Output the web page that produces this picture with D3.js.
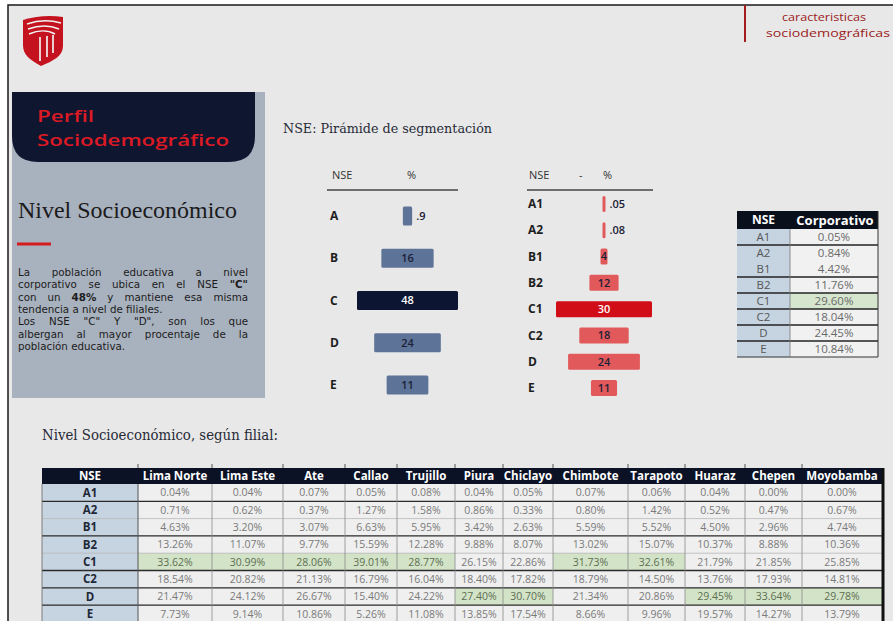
<!DOCTYPE html>
<html>
<head>
<meta charset="utf-8">
<title>nse-perfil</title>
<style>
  body { margin: 0; background: #fff; }
  svg { display: block; }
</style>
</head>
<body>
<script src="https://cdn.jsdelivr.net/npm/d3@7"></script>
<script>
// ---- data ----
var nsePiramide = ["A", "B", "C", "D", "E"];
var pctPiramide = [0.9, 16, 48, 24, 11];

var nseDetalle = ["A1", "A2", "B1", "B2", "C1", "C2", "D", "E"];
var pctDetalle = [0.05, 0.08, 4, 12, 30, 18, 24, 11];

var pctCorporativo = [0.05, 0.84, 4.42, 11.76, 29.60, 18.04, 24.45, 10.84];

var filiales = ["Lima Norte", "Lima Este", "Ate", "Callao", "Trujillo", "Piura",
  "Chiclayo", "Chimbote", "Tarapoto", "Huaraz", "Chepen", "Moyobamba"];
var limaNorte = [0.04, 0.71, 4.63, 13.26, 33.62, 18.54, 21.47, 7.73];
var limaEste  = [0.04, 0.62, 3.20, 11.07, 30.99, 20.82, 24.12, 9.14];
var ate       = [0.07, 0.37, 3.07, 9.77, 28.06, 21.13, 26.67, 10.86];
var callao    = [0.05, 1.27, 6.63, 15.59, 39.01, 16.79, 15.40, 5.26];
var trujillo  = [0.08, 1.58, 5.95, 12.28, 28.77, 16.04, 24.22, 11.08];
var piura     = [0.04, 0.86, 3.42, 9.88, 26.15, 18.40, 27.40, 13.85];
var chiclayo  = [0.05, 0.33, 2.63, 8.07, 22.86, 17.82, 30.70, 17.54];
var chimbote  = [0.07, 0.80, 5.59, 13.02, 31.73, 18.79, 21.34, 8.66];
var tarapoto  = [0.06, 1.42, 5.52, 15.07, 32.61, 14.50, 20.86, 9.96];
var huaraz    = [0.04, 0.52, 4.50, 10.37, 21.79, 13.76, 29.45, 19.57];
var chepen    = [0.00, 0.47, 2.96, 8.88, 21.85, 17.93, 33.64, 14.27];
var moyobamba = [0.00, 0.67, 4.74, 10.36, 25.85, 14.81, 29.78, 13.79];
var filialSeries = [limaNorte, limaEste, ate, callao, trujillo, piura,
  chiclayo, chimbote, tarapoto, huaraz, chepen, moyobamba];

var parrafo = [
  [{t: "La población educativa a nivel"}],
  [{t: "corporativo se ubica en el NSE "}, {t: "\"C\"", b: 1}],
  [{t: "con un "}, {t: "48%", b: 1}, {t: " y mantiene esa misma"}],
  [{t: "tendencia a nivel de filiales."}],
  [{t: "Los NSE \"C\" Y \"D\", son los que"}],
  [{t: "albergan al mayor procentaje de la"}],
  [{t: "población educativa."}]
];
var justificar = [1, 1, 1, 0, 1, 1, 0];

// ---- setup ----
var W = 893, H = 621;
var sans = "'Open Sans', 'Noto Sans', sans-serif";
var wide = "'DejaVu Sans', sans-serif";
var serif = "'Liberation Serif', 'DejaVu Serif', serif";
var slab = "'DejaVu Serif', serif";
var fmtPct = d3.format(".2f");
var fmtSmall = function(v) { return v < 1 ? d3.format(".2~f")(v).replace(/^0/, "") : d3.format("d")(Math.round(v)); };

var svg = d3.select("body").append("svg").attr("width", W).attr("height", H)
  .attr("font-family", sans);

// page
svg.append("rect").attr("x", 8).attr("y", 5).attr("width", W - 8).attr("height", H - 5).attr("fill", "#e8e8e8");
svg.append("path").attr("d", "M8," + H + " V5 H" + W).attr("fill", "none").attr("stroke", "#1a1a1a").attr("stroke-width", 1.5);

// logo
var logo = svg.append("g").attr("transform", "translate(23,15)");
logo.append("path")
  .attr("d", "M0,5 C13,1 27,0 40,2 L40,31 C40,41 30,46 18,51 C7,45 0,40 0,30 Z")
  .attr("fill", "#c4121f");
["M4,9 C15,5 28,5 38,8", "M5,14 C16,10 27,10 36,14", "M6,19 C15,15 25,15 32,19"].forEach(function(p) {
  logo.append("path").attr("d", p).attr("fill", "none").attr("stroke", "#f1f1f1").attr("stroke-width", 1.5);
});
[[17, 22, 46], [24, 21, 42], [30, 20, 38]].forEach(function(s) {
  logo.append("line").attr("x1", s[0]).attr("x2", s[0]).attr("y1", s[1]).attr("y2", s[2])
    .attr("stroke", "#f1f1f1").attr("stroke-width", 1.7);
});

// header right
svg.append("line").attr("x1", 745).attr("x2", 745).attr("y1", 5).attr("y2", 42)
  .attr("stroke", "#a51c1c").attr("stroke-width", 2);
svg.append("text").attr("x", 782).attr("y", 21)
  .attr("font-size", 11.5).attr("fill", "#9b1b1b").attr("textLength", 84).attr("lengthAdjust", "spacingAndGlyphs")
  .text("caracteristicas");
svg.append("text").attr("x", 766).attr("y", 37)
  .attr("font-size", 11.5).attr("fill", "#9b1b1b").attr("textLength", 124).attr("lengthAdjust", "spacingAndGlyphs")
  .text("sociodemográficas");

// ---- left panel ----
svg.append("rect").attr("x", 12).attr("y", 92).attr("width", 253).attr("height", 306).attr("fill", "#a8b1be");
svg.append("path").attr("d", "M12,92 H255 V136 Q255,162 229,162 H38 Q12,162 12,136 Z").attr("fill", "#0e1630");
svg.append("text").attr("x", 37).attr("y", 122).attr("font-weight", 600)
  .attr("font-size", 17).attr("fill", "#dc1a24").attr("textLength", 57).attr("lengthAdjust", "spacingAndGlyphs")
  .text("Perfil");
svg.append("text").attr("x", 37).attr("y", 146).attr("font-weight", 600)
  .attr("font-size", 17).attr("fill", "#dc1a24").attr("textLength", 192).attr("lengthAdjust", "spacingAndGlyphs")
  .text("Sociodemográfico");
svg.append("text").attr("x", 18).attr("y", 218).attr("font-family", serif)
  .attr("font-size", 23).attr("fill", "#1b1b1b").attr("textLength", 219).attr("lengthAdjust", "spacingAndGlyphs")
  .text("Nivel Socioeconómico");
svg.append("line").attr("x1", 17).attr("x2", 51).attr("y1", 244).attr("y2", 244)
  .attr("stroke", "#d31c1c").attr("stroke-width", 3);

var para = svg.append("g").attr("font-family", wide).attr("font-size", 10.3).attr("fill", "#1c1c1c");
parrafo.forEach(function(segs, i) {
  var t = para.append("text").attr("x", 18).attr("y", 276 + i * 12.3);
  segs.forEach(function(s) {
    t.append("tspan").attr("font-weight", s.b ? 700 : 400).text(s.t);
  });
  if (justificar[i]) {
    var spaces = segs.map(function(s) { return s.t; }).join("").split(" ").length - 1;
    var extra = 230 - t.node().getComputedTextLength();
    t.attr("word-spacing", extra / spaces);
  }
});

// ---- pyramid 1 ----
svg.append("text").attr("x", 283).attr("y", 133).attr("font-family", slab)
  .attr("font-size", 13.5).attr("fill", "#262a36").attr("textLength", 209).attr("lengthAdjust", "spacingAndGlyphs")
  .text("NSE: Pirámide de segmentación");

function pyramid(opts) {
  var g = svg.append("g");
  g.append("text").attr("x", opts.hx).attr("y", 179).attr("font-size", 11).attr("fill", "#333").text("NSE");
  opts.hextra.forEach(function(h) {
    g.append("text").attr("x", h[0]).attr("y", 179).attr("font-size", 11).attr("fill", "#333").text(h[1]);
  });
  g.append("line").attr("x1", opts.line[0]).attr("x2", opts.line[1]).attr("y1", 190).attr("y2", 190)
    .attr("stroke", "#444").attr("stroke-width", 1.5);

  var y = d3.scalePoint().domain(opts.cats).range(opts.yr);
  var w = d3.scalePow().exponent(opts.exp).domain([0, d3.max(opts.vals)]).range([0, opts.maxW]);
  var bw = function(v) { return Math.max(opts.minW, w(v)); };
  var maxV = d3.max(opts.vals);
  var rows = g.selectAll("g.row").data(opts.cats.map(function(c, i) { return {c: c, v: opts.vals[i]}; }))
    .enter().append("g").attr("class", "row");

  rows.append("text").attr("x", opts.lx).attr("y", function(d) { return y(d.c); }).attr("dy", "0.35em")
    .attr("font-size", 12).attr("font-weight", 700).attr("fill", "#1e1e1e").text(function(d) { return d.c; });

  rows.append("rect")
    .attr("x", function(d) { return opts.cx - bw(d.v) / 2; })
    .attr("y", function(d) { return y(d.c) - opts.bh / 2; })
    .attr("width", function(d) { return bw(d.v); })
    .attr("height", opts.bh).attr("rx", 1.5)
    .attr("fill", function(d) { return d.v === maxV ? opts.hi : opts.base; });

  rows.append("text")
    .attr("x", function(d) { return d.v < 1 ? opts.cx + bw(d.v) / 2 + 4 : opts.cx; })
    .attr("y", function(d) { return y(d.c); }).attr("dy", "0.35em")
    .attr("text-anchor", function(d) { return d.v < 1 ? "start" : "middle"; })
    .attr("font-size", 11).attr("font-weight", 600)
    .attr("fill", function(d) { return d.v === maxV ? "#fff" : "#1b2136"; })
    .text(function(d) { return fmtSmall(d.v); });
}

pyramid({cats: nsePiramide, vals: pctPiramide, yr: [216, 385], exp: 0.6, maxW: 101, minW: 4,
  cx: 407.5, bh: 19, lx: 330, hx: 332, hextra: [[407, "%"]], line: [327, 458],
  hi: "#0c1531", base: "#5d7397"});

pyramid({cats: nseDetalle, vals: pctDetalle, yr: [204, 388], exp: 1.3, maxW: 96, minW: 3,
  cx: 604, bh: 16, lx: 528, hx: 529, hextra: [[579, "-"], [603, "%"]], line: [527, 653],
  hi: "#d10d17", base: "#e2595b"});

// ---- corporativo table ----
(function() {
  var g = svg.append("g");
  var x0 = 737, x1 = 790, x2 = 878, top = 211, hh = 18, rh = 16;
  var y = d3.scaleBand().domain(nseDetalle).range([top + hh, top + hh + rh * nseDetalle.length]);
  var maxV = d3.max(pctCorporativo);
  g.append("rect").attr("x", x0).attr("y", top).attr("width", x2 - x0).attr("height", hh).attr("fill", "#0a0f1c");
  g.append("text").attr("x", (x0 + x1) / 2).attr("y", top + hh / 2).attr("dy", "0.35em").attr("text-anchor", "middle")
    .attr("font-size", 12).attr("font-weight", 700).attr("fill", "#fff").text("NSE");
  g.append("text").attr("x", (x1 + x2) / 2 + 1).attr("y", top + hh / 2).attr("dy", "0.35em").attr("text-anchor", "middle")
    .attr("font-size", 13).attr("font-weight", 700).attr("fill", "#fff").text("Corporativo");
  nseDetalle.forEach(function(c, i) {
    var v = pctCorporativo[i];
    g.append("rect").attr("x", x0).attr("y", y(c)).attr("width", x1 - x0).attr("height", y.bandwidth()).attr("fill", "#c6d4e1");
    g.append("rect").attr("x", x1).attr("y", y(c)).attr("width", x2 - x1).attr("height", y.bandwidth())
      .attr("fill", v === maxV ? "#d6e5cd" : "#f1f1f1");
    g.append("text").attr("x", (x0 + x1) / 2).attr("y", y(c) + y.bandwidth() / 2).attr("dy", "0.35em")
      .attr("text-anchor", "middle").attr("font-size", 11.5).attr("fill", "#555").text(c);
    g.append("text").attr("x", (x1 + x2) / 2).attr("y", y(c) + y.bandwidth() / 2).attr("dy", "0.35em")
      .attr("text-anchor", "middle").attr("font-size", 11.5).attr("fill", "#6a6a6a").text(fmtPct(v) + "%");
    if (i > 0 && i !== 2) {
      g.append("line").attr("x1", x0).attr("x2", x2).attr("y1", y(c)).attr("y2", y(c))
        .attr("stroke", "#222").attr("stroke-width", 1.3);
    }
  });
  var bottom = top + hh + rh * nseDetalle.length;
  g.append("line").attr("x1", x0).attr("x2", x2).attr("y1", bottom).attr("y2", bottom).attr("stroke", "#333").attr("stroke-width", 1);
  g.append("line").attr("x1", x1).attr("x2", x1).attr("y1", top + hh).attr("y2", bottom).attr("stroke", "#777").attr("stroke-width", 0.8);
  g.append("line").attr("x1", x2).attr("x2", x2).attr("y1", top).attr("y2", bottom).attr("stroke", "#333").attr("stroke-width", 1);
})();

// ---- filiales table ----
svg.append("text").attr("x", 42).attr("y", 440).attr("font-family", slab)
  .attr("font-size", 14).attr("fill", "#262a36").attr("textLength", 236).attr("lengthAdjust", "spacingAndGlyphs")
  .text("Nivel Socioeconómico, según filial:");

(function() {
  var g = svg.append("g");
  var colW = [96, 74, 71, 62, 52, 58, 48, 50, 75, 57, 60, 57, 80];
  var edges = [42];
  colW.forEach(function(w) { edges.push(edges[edges.length - 1] + w); });
  var top = 468, hh = 16, rh = 17.3;
  var y = d3.scaleBand().domain(nseDetalle).range([top + hh, top + hh + rh * nseDetalle.length]);
  var heads = ["NSE"].concat(filiales);
  var strong = [1, 3, 5, 6, 7];

  g.append("rect").attr("x", edges[0]).attr("y", top).attr("width", edges[edges.length - 1] - edges[0]).attr("height", hh)
    .attr("fill", "#0b1226");
  heads.forEach(function(h, j) {
    g.append("text").attr("x", (edges[j] + edges[j + 1]) / 2).attr("y", top + hh / 2).attr("dy", "0.36em")
      .attr("text-anchor", "middle").attr("font-size", 11.5).attr("font-weight", 700).attr("fill", "#fff").text(h);
  });

  nseDetalle.forEach(function(c, i) {
    g.append("rect").attr("x", edges[0]).attr("y", y(c)).attr("width", edges[1] - edges[0]).attr("height", y.bandwidth())
      .attr("fill", "#c6d4e1");
    g.append("text").attr("x", (edges[0] + edges[1]) / 2).attr("y", y(c) + y.bandwidth() / 2).attr("dy", "0.36em")
      .attr("text-anchor", "middle").attr("font-size", 11.5).attr("font-weight", 700).attr("fill", "#1f2838").text(c);
    filialSeries.forEach(function(serie, j) {
      var v = serie[i];
      var isMax = v === d3.max(serie);
      g.append("rect").attr("x", edges[j + 1]).attr("y", y(c)).attr("width", edges[j + 2] - edges[j + 1])
        .attr("height", y.bandwidth()).attr("fill", isMax ? "#d3e3c7" : "#efefef");
      g.append("text").attr("x", (edges[j + 1] + edges[j + 2]) / 2).attr("y", y(c) + y.bandwidth() / 2).attr("dy", "0.36em")
        .attr("text-anchor", "middle").attr("font-size", 10.5).attr("fill", isMax ? "#5c6e52" : "#7a7a7a")
        .text(fmtPct(v) + "%");
    });
    if (i > 0) {
      g.append("line").attr("x1", edges[0]).attr("x2", edges[edges.length - 1]).attr("y1", y(c)).attr("y2", y(c))
        .attr("stroke", strong.indexOf(i) >= 0 ? "#2a2a2a" : "#b8b8b8")
        .attr("stroke-width", strong.indexOf(i) >= 0 ? 1.3 : 0.8);
    }
  });
  var bottom = top + hh + rh * nseDetalle.length;
  edges.slice(1, -1).forEach(function(x, j) {
    g.append("line").attr("x1", x).attr("x2", x).attr("y1", top + hh).attr("y2", bottom)
      .attr("stroke", j === 0 ? "#555" : "#8c8c8c").attr("stroke-width", j === 0 ? 1 : 0.8);
    g.append("line").attr("x1", x).attr("x2", x).attr("y1", top - 4).attr("y2", top)
      .attr("stroke", "#555").attr("stroke-width", 1);
  });
  g.append("line").attr("x1", edges[0]).attr("x2", edges[0]).attr("y1", top + hh).attr("y2", bottom)
    .attr("stroke", "#666").attr("stroke-width", 0.8);
  g.append("line").attr("x1", edges[edges.length - 1] + 1).attr("x2", edges[edges.length - 1] + 1).attr("y1", top).attr("y2", bottom)
    .attr("stroke", "#111").attr("stroke-width", 3);
})();
</script>
</body>
</html>
